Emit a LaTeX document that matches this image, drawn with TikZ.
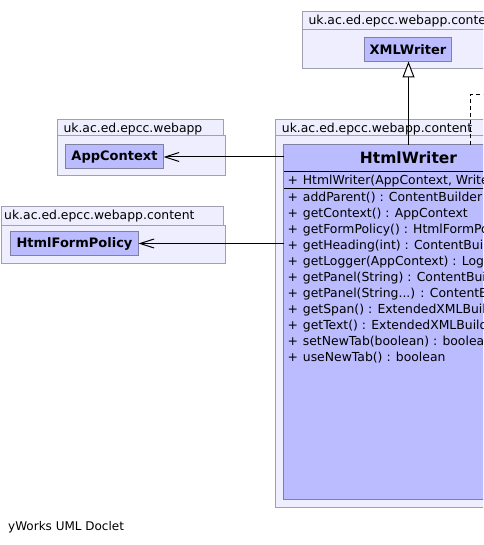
\documentclass[tikz,border=0pt]{standalone}
\usepackage{fontspec}
\setmainfont{DejaVu Sans}
\usetikzlibrary{arrows.meta,calc}
\definecolor{pkgfill}{RGB}{238,238,255}
\definecolor{pkgdraw}{RGB}{160,160,176}
\definecolor{clsfill}{RGB}{187,187,255}
\definecolor{clsdraw}{RGB}{128,128,160}
\tikzset{
  pkg/.style={draw=pkgdraw, fill=pkgfill, line width=1pt},
  cls/.style={draw=clsdraw, fill=clsfill, line width=1pt, inner sep=0pt, outer sep=0pt,
    font=\fontsize{13}{15}\selectfont\bfseries},
  pkglabel/.style={anchor=base west, inner sep=0pt, font=\fontsize{12.4}{15}\selectfont},
  member/.style={anchor=base west, inner sep=0pt, font=\fontsize{12.4}{15}\selectfont},
  sepline/.style={draw=black, line width=1pt},
  assoc/.style={draw=black, line width=1pt, -{Straight Barb[length=14pt,width=9pt]}},
  gen/.style={draw=black, line width=1pt, -{Triangle[length=16pt,width=12pt,fill=white]}},
  dep/.style={draw=black, line width=1pt, dash pattern=on 4pt off 3pt},
}
\newcommand{\memb}[3]{%
  \node[member] (mp#1) at (287.5,#2) {+};
  \node[member] (m#1) at (302.7,#2) {#3};}
\begin{document}
\begin{tikzpicture}[x=1pt,y=-1pt]
\useasboundingbox (0,0) rectangle (483,545);
\clip (0,0) rectangle (483,545);
% packages
\draw[pkg] (302.5,11.5) rectangle (560,29.5);
\draw[pkg] (302.5,29.5) rectangle (560,69);
\node[pkglabel] (p1) at (308.3,24.7) {uk.ac.ed.epcc.webapp.content};

\draw[pkg] (57.5,119.5) rectangle (223.5,136);
\draw[pkg] (57.5,136) rectangle (225.5,176);
\node[pkglabel] (p2) at (63.3,132.5) {uk.ac.ed.epcc.webapp};

\draw[pkg] (1.5,206.5) rectangle (223.5,225);
\draw[pkg] (1.5,225) rectangle (225.5,263.5);
\node[pkglabel] (p3) at (4,219.5) {uk.ac.ed.epcc.webapp.content};

\draw[pkg] (275.5,120) rectangle (560,136);
\draw[pkg] (275.5,136) rectangle (560,507.5);
\node[pkglabel] (p4) at (281.7,133) {uk.ac.ed.epcc.webapp.content};

% classes
\node[cls, minimum width=87pt, minimum height=24pt] (xw) at (408,49.5) {XMLWriter};
\node[cls, minimum width=98pt, minimum height=24pt] (ac) at (114.5,157) {AppContext};
\node[cls, minimum width=128pt, minimum height=24pt] (hfp) at (74.5,243.5) {HtmlFormPolicy};
\node[cls, anchor=north west, minimum width=250pt, minimum height=354.5pt] (hw) at (283.5,145) {};
\node[anchor=base, inner sep=0pt, font=\fontsize{15.5}{18}\selectfont\bfseries] (hwt) at (408.5,164) {HtmlWriter};
\draw[sepline] (283.5,171.7) -- (533.5,171.7);
\draw[sepline] (283.5,188.3) -- (533.5,188.3);
\memb{c}{185}{HtmlWriter(AppContext, Writer)}
\memb{0}{201.5}{addParent() : ContentBuilder}
\memb{1}{217.5}{getContext() : AppContext}
\memb{2}{233.5}{getFormPolicy() : HtmlFormPolicy}
\memb{3}{249.5}{getHeading(int) : ContentBuilder}
\memb{4}{265.5}{getLogger(AppContext) : Logger}
\memb{5}{281.5}{getPanel(String) : ContentBuilder}
\memb{6}{297.5}{getPanel(String...) : ContentBuilder}
\memb{7}{313.5}{getSpan() : ExtendedXMLBuilder}
\memb{8}{329.5}{getText() : ExtendedXMLBuilder}
\memb{9}{345.5}{setNewTab(boolean) : boolean}
\memb{10}{361.5}{useNewTab() : boolean}

% connectors
\draw[assoc] (hw.west |- ac.east) -- (ac.east);
\draw[assoc] (hw.west |- hfp.east) -- (hfp.east);
\draw[gen] (hw.north) -- (hw.north |- xw.south);
\coordinate (depend) at (540,94.7);
\draw[dep] ([xshift=62pt]hw.north) |- (depend);

% footer
\node[anchor=base west, inner sep=0pt, font=\fontsize{12}{14}\selectfont] (foot) at (8,530.5) {yWorks UML Doclet};
\end{tikzpicture}
\end{document}
